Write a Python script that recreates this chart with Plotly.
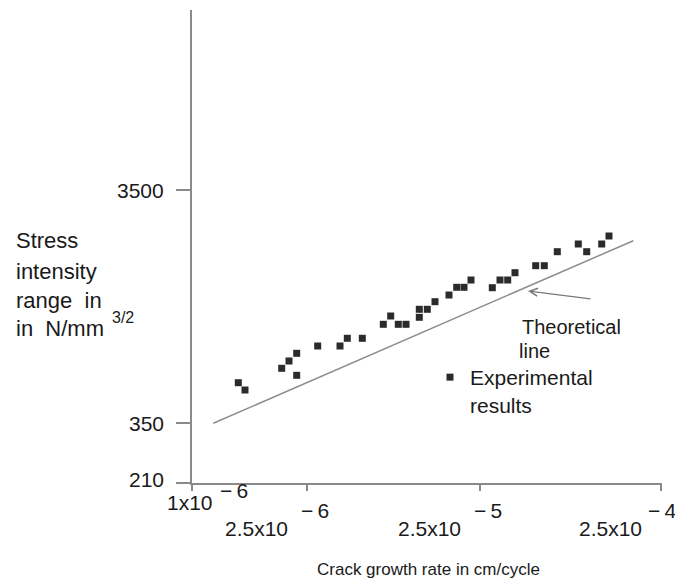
import plotly.graph_objects as go

# Schematic axis positions (the original axes are not to a true log scale)
x_tick_pos = [0, 115, 288, 469]
x_tick_base = ["1x10", "2.5x10", "2.5x10", "2.5x10"]
x_tick_exp = ["\u2212\u20096", "\u2212\u20096", "\u2212\u20095", "\u2212\u20094"]

y_tick_pos = [0, 60, 293]
y_tick_text = ["210", "350", "3500"]

# Experimental results (position on schematic axes)
exp_x = [46.3, 53, 89.7, 97, 104.7, 104.7, 125.7, 148, 155.3, 170.3, 191.3, 198.7,
         206.3, 214, 227.3, 227.3, 235.3, 243, 257, 264.7, 272, 279, 300.3, 308,
         315.7, 323, 343.7, 352.3, 365.3, 386.3, 394.7, 409.7, 417]
exp_y = [100.3, 93, 114.7, 122, 129.7, 107.7, 137, 137, 144.7, 144.7, 158.7, 167,
         158.7, 158.7, 165.7, 173.7, 173.7, 181.3, 188, 195.7, 195.7, 203, 195.3, 203,
         203, 210.3, 217.3, 217.3, 231.3, 239, 231.3, 239, 247]

# Theoretical line end points
theo_x = [21.3, 441.3]
theo_y = [59.7, 242.3]

FONT = "Liberation Sans, Arial, sans-serif"
TXT = "#1a1a1a"
AX = "#8a8a8a"

L, R, T, B = 192, 13, 10, 102
W, H = 675, 585
PW, PH = W - L - R, H - T - B

fig = go.Figure()
fig.add_trace(go.Scatter(x=theo_x, y=theo_y, mode="lines",
                         line=dict(color="#8c8c8c", width=1.5),
                         showlegend=False, hoverinfo="skip"))
fig.add_trace(go.Scatter(x=exp_x, y=exp_y, mode="markers",
                         marker=dict(symbol="square", size=7, color="#2b2b2b"),
                         name="Experimental<br>results", showlegend=True))

ann = []


def ptext(text, px, py, size, xanchor="left", yanchor="middle"):
    ann.append(dict(text=text, xref="paper", yref="paper", x=0, y=0,
                    xshift=px - L, yshift=(H - B) - py, xanchor=xanchor,
                    yanchor=yanchor, showarrow=False,
                    font=dict(family=FONT, size=size, color=TXT)))


# y tick labels
for pos, txt in zip(y_tick_pos, y_tick_text):
    ann.append(dict(text=txt, xref="paper", yref="y", x=0, y=pos, xshift=-26,
                    yshift=4 if pos == 0 else 0,
                    xanchor="right", yanchor="middle", showarrow=False,
                    font=dict(family=FONT, size=21, color=TXT)))

# x tick labels (base + superscript exponent)
exp_shift = [26, -8, -8, -15]
for i, (pos, base, ex) in enumerate(zip(x_tick_pos, x_tick_base, x_tick_exp)):
    if i == 0:
        ann.append(dict(text=base, xref="x", yref="paper", x=pos, y=0, xshift=-2,
                        yshift=-19, xanchor="center", yanchor="middle",
                        showarrow=False, font=dict(family=FONT, size=21, color=TXT)))
        ann.append(dict(text=ex, xref="x", yref="paper", x=pos, y=0, xshift=exp_shift[i],
                        yshift=-7, xanchor="left", yanchor="middle",
                        showarrow=False, font=dict(family=FONT, size=21, color=TXT)))
    else:
        ann.append(dict(text=base, xref="x", yref="paper", x=pos, y=0, xshift=-17,
                        yshift=-45, xanchor="right", yanchor="middle",
                        showarrow=False, font=dict(family=FONT, size=21, color=TXT)))
        ann.append(dict(text=ex, xref="x", yref="paper", x=pos, y=0, xshift=exp_shift[i],
                        yshift=-27, xanchor="left", yanchor="middle",
                        showarrow=False, font=dict(family=FONT, size=21, color=TXT)))

# y axis title
ptext("Stress", 14, 240, 22)
ptext("intensity", 14, 271, 22)
ptext("range\u00a0\u00a0in", 14, 300, 22)
ptext("in\u00a0\u00a0N/mm", 14, 328, 22)
ptext("3/2", 110, 317, 16)

# x axis title
ptext("Crack growth rate in cm/cycle", 428, 569, 17, xanchor="center")

# theoretical line label
ptext("Theoretical", 520, 327, 20)
ptext("line", 517, 351, 20)

# arrow pointing at theoretical line
ann.append(dict(text="", x=336, y=192, xref="x", yref="y", ax=64, ay=8,
                showarrow=True, arrowhead=5, arrowsize=1.2, arrowwidth=1.3,
                arrowcolor="#7a7a7a"))

fig.update_layout(
    width=W, height=H,
    margin=dict(l=L, r=R, t=T, b=B),
    paper_bgcolor="white", plot_bgcolor="white",
    font=dict(family=FONT, color=TXT),
    annotations=ann,
    showlegend=True,
    legend=dict(x=(430 - L) / PW, y=((H - B) - 357) / PH, xanchor="left",
                yanchor="top", valign="top", bgcolor="rgba(0,0,0,0)",
                font=dict(family=FONT, size=21, color=TXT),
                itemwidth=30, tracegroupgap=0),
    xaxis=dict(range=[0, PW], showgrid=False, zeroline=False, showline=True,
               linecolor=AX, linewidth=1.5, ticks="outside", ticklen=6,
               tickcolor=AX, tickwidth=1.5, tickvals=x_tick_pos,
               showticklabels=False, fixedrange=True),
    yaxis=dict(range=[0, PH], showgrid=False, zeroline=False, showline=True,
               linecolor=AX, linewidth=1.5, ticks="outside", ticklen=14,
               tickcolor=AX, tickwidth=1.5, tickvals=y_tick_pos,
               showticklabels=False, fixedrange=True),
)

fig.write_html("out.html")
